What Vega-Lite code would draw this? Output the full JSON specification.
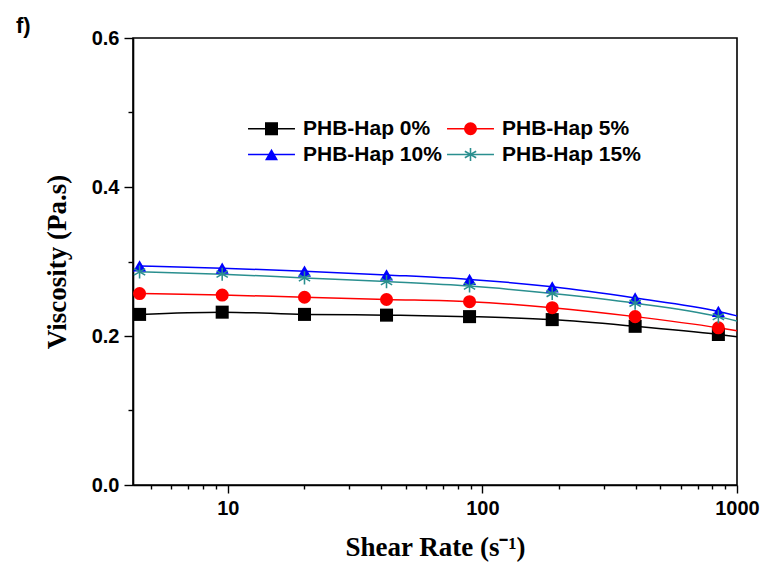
{
  "$schema": "https://vega.github.io/schema/vega-lite/v6.json",
  "width": 604,
  "height": 447,
  "autosize": {"type": "none"},
  "padding": {"left": 133, "top": 38, "right": 31, "bottom": 89},
  "background": "white",
  "title": {"text": "f)", "anchor": "start", "frame": "group", "dx": -117, "dy": 31, "font": "Liberation Sans", "fontSize": 22, "fontWeight": "bold", "color": "black", "baseline": "alphabetic"},
  "config": {
    "view": {"stroke": "black", "strokeWidth": 1.6},
    "axis": {
      "domainColor": "black", "domainWidth": 1.6, "tickColor": "black", "tickWidth": 1.4,
      "labelFont": "Liberation Sans", "labelFontSize": 20, "labelFontWeight": "bold", "labelColor": "black",
      "titleFont": "Liberation Serif", "titleFontSize": 27, "titleFontWeight": "bold", "titleColor": "black",
      "grid": false
    }
  },
  "data": {"values": [
    {"series": "PHB-Hap 0%", "rate": 4.5, "visc": 0.229, "marker": true},
    {"series": "PHB-Hap 0%", "rate": 9.5, "visc": 0.232, "marker": true},
    {"series": "PHB-Hap 0%", "rate": 20, "visc": 0.229, "marker": true},
    {"series": "PHB-Hap 0%", "rate": 42, "visc": 0.228, "marker": true},
    {"series": "PHB-Hap 0%", "rate": 89, "visc": 0.226, "marker": true},
    {"series": "PHB-Hap 0%", "rate": 188, "visc": 0.222, "marker": true},
    {"series": "PHB-Hap 0%", "rate": 398, "visc": 0.213, "marker": true},
    {"series": "PHB-Hap 0%", "rate": 845, "visc": 0.202, "marker": true},
    {"series": "PHB-Hap 0%", "rate": 1000, "visc": 0.199, "marker": false},
    {"series": "PHB-Hap 5%", "rate": 4.5, "visc": 0.257, "marker": true},
    {"series": "PHB-Hap 5%", "rate": 9.5, "visc": 0.255, "marker": true},
    {"series": "PHB-Hap 5%", "rate": 20, "visc": 0.252, "marker": true},
    {"series": "PHB-Hap 5%", "rate": 42, "visc": 0.249, "marker": true},
    {"series": "PHB-Hap 5%", "rate": 89, "visc": 0.246, "marker": true},
    {"series": "PHB-Hap 5%", "rate": 188, "visc": 0.238, "marker": true},
    {"series": "PHB-Hap 5%", "rate": 398, "visc": 0.226, "marker": true},
    {"series": "PHB-Hap 5%", "rate": 845, "visc": 0.211, "marker": true},
    {"series": "PHB-Hap 5%", "rate": 1000, "visc": 0.207, "marker": false},
    {"series": "PHB-Hap 10%", "rate": 4.5, "visc": 0.294, "marker": true},
    {"series": "PHB-Hap 10%", "rate": 9.5, "visc": 0.291, "marker": true},
    {"series": "PHB-Hap 10%", "rate": 20, "visc": 0.287, "marker": true},
    {"series": "PHB-Hap 10%", "rate": 42, "visc": 0.282, "marker": true},
    {"series": "PHB-Hap 10%", "rate": 89, "visc": 0.276, "marker": true},
    {"series": "PHB-Hap 10%", "rate": 188, "visc": 0.266, "marker": true},
    {"series": "PHB-Hap 10%", "rate": 398, "visc": 0.251, "marker": true},
    {"series": "PHB-Hap 10%", "rate": 845, "visc": 0.233, "marker": true},
    {"series": "PHB-Hap 10%", "rate": 1000, "visc": 0.227, "marker": false},
    {"series": "PHB-Hap 15%", "rate": 4.5, "visc": 0.286, "marker": true},
    {"series": "PHB-Hap 15%", "rate": 9.5, "visc": 0.283, "marker": true},
    {"series": "PHB-Hap 15%", "rate": 20, "visc": 0.278, "marker": true},
    {"series": "PHB-Hap 15%", "rate": 42, "visc": 0.273, "marker": true},
    {"series": "PHB-Hap 15%", "rate": 89, "visc": 0.267, "marker": true},
    {"series": "PHB-Hap 15%", "rate": 188, "visc": 0.257, "marker": true},
    {"series": "PHB-Hap 15%", "rate": 398, "visc": 0.244, "marker": true},
    {"series": "PHB-Hap 15%", "rate": 845, "visc": 0.226, "marker": true},
    {"series": "PHB-Hap 15%", "rate": 1000, "visc": 0.220, "marker": false}
  ]},
  "encoding": {
    "x": {
      "field": "rate", "type": "quantitative",
      "scale": {"type": "log", "domain": [4.24, 1000], "nice": false},
      "axis": {
        "title": "Shear Rate (s⁻¹)",
        "values": [5, 6, 7, 8, 9, 10, 20, 30, 40, 50, 60, 70, 80, 90, 100, 200, 300, 400, 500, 600, 700, 800, 900, 1000],
        "labelExpr": "(datum.value == 10 || datum.value == 100 || datum.value == 1000) ? datum.label : ''",
        "format": "d",
        "tickSize": {"condition": {"test": "datum.value == 10 || datum.value == 100 || datum.value == 1000", "value": 8}, "value": 4},
        "labelPadding": 5,
        "labelFlush": false,
        "labelOverlap": false,
        "titlePadding": 16
      }
    },
    "y": {
      "field": "visc", "type": "quantitative",
      "scale": {"domain": [0, 0.6], "nice": false, "zero": false},
      "axis": {
        "title": "Viscosity (Pa.s)",
        "values": [0, 0.1, 0.2, 0.3, 0.4, 0.5, 0.6],
        "format": ".1f",
        "labelExpr": "round(datum.value * 10) % 2 == 0 ? datum.label : ''",
        "tickSize": {"condition": {"test": "round(datum.value * 10) % 2 == 0", "value": 9}, "value": 5},
        "labelPadding": 5,
        "labelFlush": false,
        "labelOverlap": false,
        "titlePadding": 20
      }
    }
  },
  "layer": [
    {
      "mark": {"type": "line", "strokeWidth": 1.5, "interpolate": "monotone"},
      "encoding": {
        "stroke": {
          "field": "series", "type": "nominal",
          "sort": ["PHB-Hap 0%", "PHB-Hap 5%", "PHB-Hap 10%", "PHB-Hap 15%"],
          "scale": {"range": ["#000000", "#ff0000", "#0000ff", "#2a8f8f"]},
          "legend": {
            "orient": "none", "legendX": 128, "legendY": 80, "columns": 2, "direction": "horizontal", "title": null,
            "symbolType": "M-3.6,0H3.6", "symbolSize": 170, "symbolStrokeWidth": 1.5,
            "labelFont": "Liberation Sans", "labelFontSize": 21, "labelFontWeight": "bold", "labelColor": "black",
            "labelOffset": 21, "columnPadding": 2, "rowPadding": 4
          }
        }
      }
    },
    {
      "transform": [{"filter": "datum.marker"}],
      "mark": {"type": "point", "filled": true, "size": 170, "opacity": 1},
      "encoding": {
        "color": {
          "field": "series", "type": "nominal",
          "scale": {"domain": ["PHB-Hap 0%", "PHB-Hap 5%", "PHB-Hap 10%", "PHB-Hap 15%"], "range": ["#000000", "#ff0000", "#0000ff", "#2a8f8f"]},
          "legend": {
            "orient": "none", "legendX": 128, "legendY": 80, "columns": 2, "direction": "horizontal", "title": null,
            "symbolSize": 170, "symbolOpacity": 1,
            "labelFont": "Liberation Sans", "labelFontSize": 21, "labelFontWeight": "bold", "labelColor": "black", "labelOpacity": 0,
            "labelOffset": 21, "columnPadding": 18, "rowPadding": 4
          }
        },
        "shape": {
          "field": "series", "type": "nominal",
          "scale": {"domain": ["PHB-Hap 0%", "PHB-Hap 5%", "PHB-Hap 10%", "PHB-Hap 15%"], "range": ["square", "circle", "triangle-up", "M-0.12,-1L-0.12,1L0.12,1L0.12,-1ZM0.806,0.604L0.926,0.396L-0.806,-0.604L-0.926,-0.396ZM-0.926,0.396L-0.806,0.604L0.926,-0.396L0.806,-0.604Z"]},
          "legend": {
            "orient": "none", "legendX": 128, "legendY": 80, "columns": 2, "direction": "horizontal", "title": null,
            "symbolSize": 170, "symbolOpacity": 1,
            "labelFont": "Liberation Sans", "labelFontSize": 21, "labelFontWeight": "bold", "labelColor": "black", "labelOpacity": 0,
            "labelOffset": 21, "columnPadding": 18, "rowPadding": 4
          }
        }
      }
    }
  ]
}
